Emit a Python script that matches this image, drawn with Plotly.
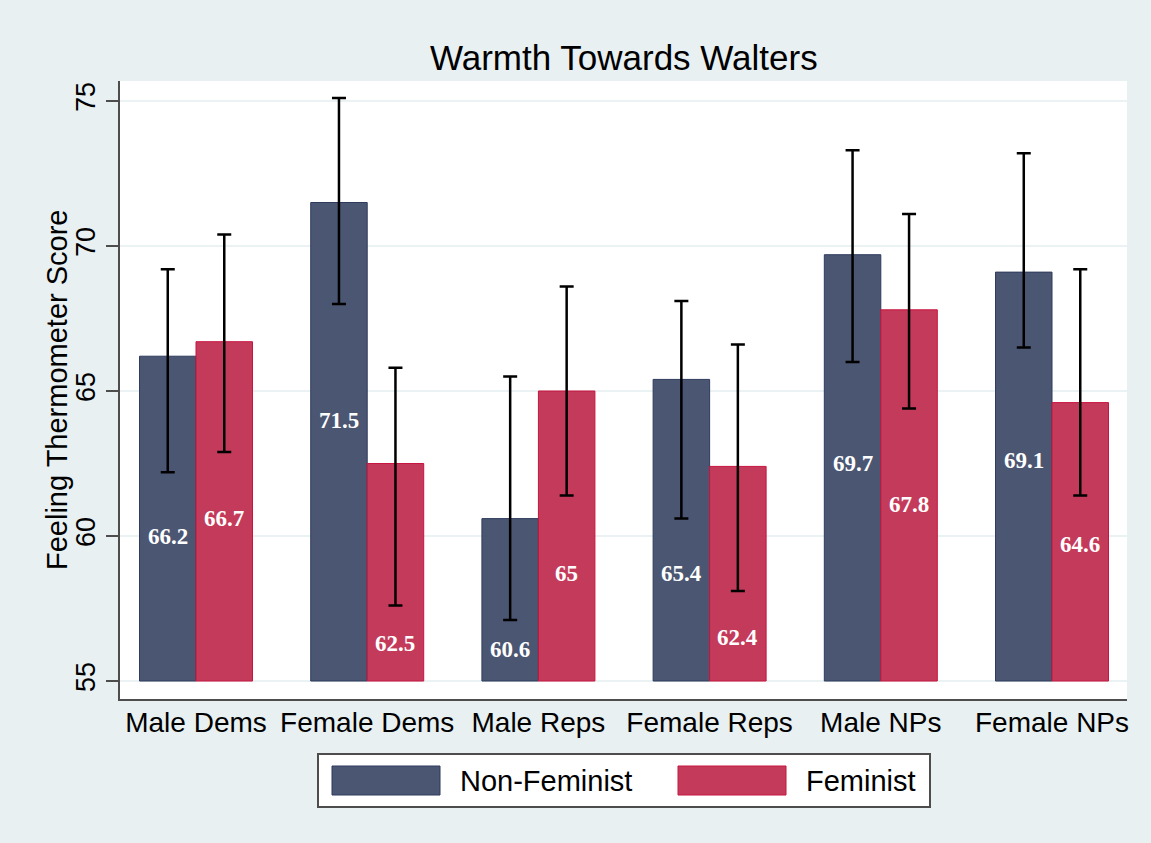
import plotly.graph_objects as go

# Groups and series
groups = ["Male Dems", "Female Dems", "Male Reps", "Female Reps", "Male NPs", "Female NPs"]
series_names = ["Non-Feminist", "Feminist"]

# Mean feeling-thermometer scores
nonfem_mean = [66.2, 71.5, 60.6, 65.4, 69.7, 69.1]
fem_mean = [66.7, 62.5, 65.0, 62.4, 67.8, 64.6]

# 95% confidence interval bounds
nonfem_lo = [62.2, 68.0, 57.1, 60.6, 66.0, 66.5]
nonfem_hi = [69.2, 75.1, 65.5, 68.1, 73.3, 73.2]
fem_lo = [62.9, 57.6, 61.4, 58.1, 64.4, 61.4]
fem_hi = [70.4, 65.8, 68.6, 66.6, 71.1, 69.2]

# Heights at which the value labels sit inside the bars
nonfem_label_y = [60.0, 64.0, 56.1, 58.7, 62.5, 62.6]
fem_label_y = [60.6, 56.3, 58.7, 56.5, 61.1, 59.7]

BASE = 55
NAVY = "#4B5673"
NAVY_EDGE = "#2E3B5C"
RED = "#C43A5B"
RED_EDGE = "#C8143F"
BG = "#E8F0F2"
GRID = "#EAF2F3"
FONT = "Liberation Sans, Arial, sans-serif"
SERIF = "Liberation Serif, Times New Roman, serif"

x = list(range(len(groups)))
BARGAP = 0.34
half = (1 - BARGAP) / 4  # offset of each bar centre from the group centre

fig = go.Figure()

for name, means, lo, hi, fill, edge in [
    (series_names[0], nonfem_mean, nonfem_lo, nonfem_hi, NAVY, NAVY_EDGE),
    (series_names[1], fem_mean, fem_lo, fem_hi, RED, RED_EDGE),
]:
    fig.add_trace(go.Bar(
        name=name,
        x=x,
        y=[m - BASE for m in means],
        base=BASE,
        marker=dict(color=fill, line=dict(color=edge, width=1)),
        error_y=dict(
            type="data",
            symmetric=False,
            array=[h - m for h, m in zip(hi, means)],
            arrayminus=[m - l for m, l in zip(means, lo)],
            color="black",
            thickness=2.5,
            width=7,
        ),
        showlegend=False,
        hoverinfo="skip",
    ))

# Value labels inside the bars
annotations = []
for offset, means, ly in [(-half, nonfem_mean, nonfem_label_y), (half, fem_mean, fem_label_y)]:
    for i, (m, yy) in enumerate(zip(means, ly)):
        annotations.append(dict(
            x=i + offset, y=yy, xref="x", yref="y",
            text=f"<b>{m:g}</b>", showarrow=False,
            font=dict(family=SERIF, size=23, color="white"),
            xanchor="center", yanchor="middle",
        ))

L, T, PW, PH = 120, 81, 1007, 618


def px(v):
    return (v - L) / PW


def py(v):
    return (T + PH - v) / PH


# Title
annotations.append(dict(
    x=0.5, y=1, xref="paper", yref="paper", yshift=24,
    text="Warmth Towards Walters", showarrow=False,
    font=dict(family=FONT, size=35, color="black"),
    xanchor="center", yanchor="middle",
))

# Y-axis title
annotations.append(dict(
    x=px(57), y=py(390), xref="paper", yref="paper",
    text="Feeling Thermometer Score", showarrow=False, textangle=-90,
    font=dict(family=FONT, size=29, color="black"),
    xanchor="center", yanchor="middle",
))

# Legend drawn as a framed box with swatches
shapes = [
    dict(type="rect", xref="paper", yref="paper",
         x0=px(318), x1=px(930), y0=py(754), y1=py(807),
         fillcolor="white", line=dict(color="#4D4D4D", width=2)),
    dict(type="rect", xref="paper", yref="paper",
         x0=px(332), x1=px(440), y0=py(766), y1=py(795),
         fillcolor=NAVY, line=dict(color=NAVY_EDGE, width=1)),
    dict(type="rect", xref="paper", yref="paper",
         x0=px(678), x1=px(786), y0=py(766), y1=py(795),
         fillcolor=RED, line=dict(color=RED_EDGE, width=1)),
]
for label, xpos in [(series_names[0], 458), (series_names[1], 804)]:
    annotations.append(dict(
        x=px(xpos), y=py(781), xref="paper", yref="paper",
        text=label, showarrow=False,
        font=dict(family=FONT, size=29, color="black"),
        xanchor="left", yanchor="middle",
    ))

fig.update_layout(
    width=1151,
    height=843,
    margin=dict(l=L, r=1151 - L - PW, t=T, b=843 - T - PH, pad=0),
    paper_bgcolor=BG,
    plot_bgcolor="white",
    barmode="group",
    bargap=BARGAP,
    bargroupgap=0,
    annotations=annotations,
    shapes=shapes,
    font=dict(family=FONT, color="black"),
)

fig.update_xaxes(
    range=[-0.444, 5.438],
    tickmode="array",
    tickvals=x,
    ticktext=groups,
    ticks="",
    ticklabelstandoff=-3,
    tickfont=dict(family=FONT, size=28, color="black"),
    showgrid=False,
    showline=True,
    linecolor="#4D4D4D",
    linewidth=2,
    zeroline=False,
)

fig.update_yaxes(
    range=[54.38, 75.69],
    tickmode="array",
    tickvals=[55, 60, 65, 70, 75],
    ticktext=["55", "60", "65", "70", "75"],
    tickangle=-90,
    ticks="outside",
    ticklen=12,
    tickwidth=2,
    tickcolor="#4D4D4D",
    tickfont=dict(family=FONT, size=27, color="black"),
    showgrid=True,
    gridcolor=GRID,
    gridwidth=2,
    showline=True,
    linecolor="#4D4D4D",
    linewidth=2,
    zeroline=False,
)

fig.write_html("out.html")
